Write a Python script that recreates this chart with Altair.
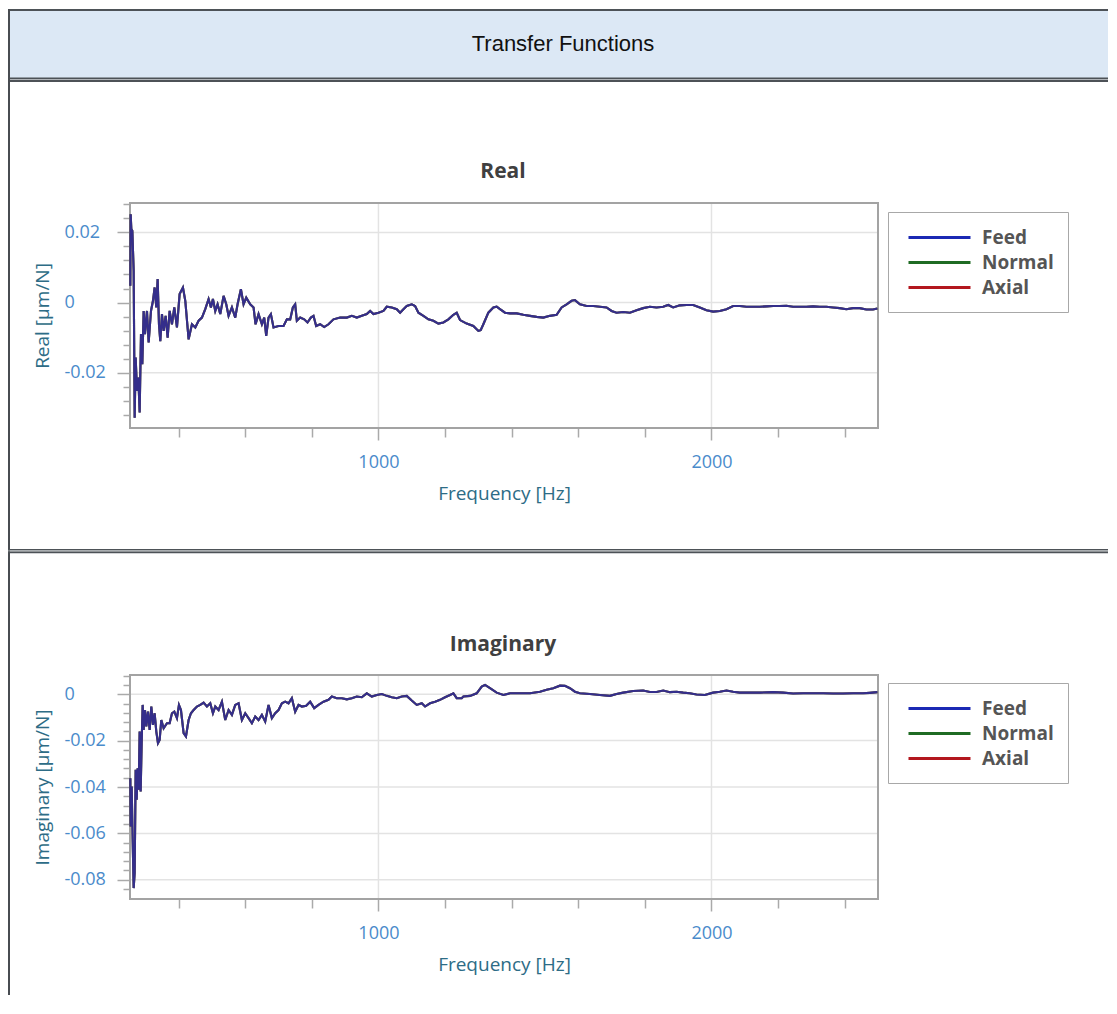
import altair as alt
import pandas as pd

# ---------------- data ----------------
SERIES = ["Feed", "Normal", "Axial"]
SERIES_COLORS = ["#1b29b4", "#1f6b23", "#b3171e"]

REAL_FREQ = [255, 256, 258, 261, 265, 268, 271, 275, 279, 283, 287, 291, 295, 299, 305, 310, 317, 323, 328, 333,
             337, 341, 345, 350, 355, 361, 367, 373, 380, 387, 395, 403, 413, 420, 430, 440, 450, 460, 470, 480,
             490, 497, 503, 510, 517, 525, 535, 543, 550, 560, 570, 577, 587, 595, 603, 615, 625, 631, 640, 650,
             657, 663, 670, 677, 685, 700, 715, 725, 735, 743, 750, 755, 765, 777, 787, 797, 805, 813, 825, 837,
             850, 865, 885, 905, 920, 935, 950, 965, 975, 985, 1000, 1015, 1025, 1040, 1055, 1065, 1075, 1085, 1100, 1110,
             1120, 1135, 1150, 1165, 1180, 1195, 1210, 1225, 1235, 1245, 1265, 1285, 1300, 1307, 1315, 1330, 1345, 1355, 1365, 1380,
             1395, 1415, 1435, 1455, 1475, 1495, 1515, 1535, 1550, 1565, 1580, 1590, 1605, 1625, 1645, 1665, 1685, 1700, 1715, 1735,
             1755, 1775, 1795, 1815, 1835, 1855, 1870, 1885, 1905, 1925, 1945, 1965, 1985, 2005, 2025, 2045, 2065, 2085, 2105, 2125,
             2145, 2165, 2185, 2205, 2225, 2245, 2265, 2285, 2305, 2325, 2345, 2365, 2385, 2405, 2425, 2445, 2465, 2485, 2498]
REAL_VALUE = [0.0048, 0.0252, 0.0210, 0.0205, 0.0090, -0.0329, -0.0157, -0.0252, -0.0214, -0.0314, -0.0090, -0.0176, -0.0024, -0.0090, -0.0024, -0.0114, -0.0024, 0.0005, 0.0043, -0.0014,
              0.0067, -0.0062, -0.0110, -0.0033, -0.0081, -0.0038, -0.0100, -0.0024, -0.0062, -0.0014, -0.0071, 0.0024, 0.0043, 0.0005, -0.0105, -0.0062, -0.0071, -0.0052, -0.0043, -0.0019,
              0.0010, -0.0014, 0.0010, -0.0024, -0.0005, -0.0033, 0.0019, -0.0005, -0.0038, -0.0014, -0.0043, -0.0005, 0.0038, -0.0005, 0.0014, -0.0005, -0.0014, -0.0062, -0.0033, -0.0062,
              -0.0043, -0.0095, -0.0043, -0.0033, -0.0071, -0.0067, -0.0067, -0.0048, -0.0048, -0.0014, -0.0005, -0.0052, -0.0043, -0.0048, -0.0057, -0.0043, -0.0038, -0.0067, -0.0062, -0.0070,
              -0.0062, -0.0048, -0.0043, -0.0043, -0.0038, -0.0043, -0.0038, -0.0033, -0.0024, -0.0033, -0.0029, -0.0024, -0.0012, -0.0014, -0.0019, -0.0029, -0.0019, -0.0010, -0.0005, -0.0010,
              -0.0029, -0.0038, -0.0048, -0.0052, -0.0060, -0.0057, -0.0048, -0.0035, -0.0029, -0.0050, -0.0060, -0.0067, -0.0081, -0.0079, -0.0062, -0.0029, -0.0014, -0.0012, -0.0019, -0.0029,
              -0.0031, -0.0031, -0.0035, -0.0038, -0.0041, -0.0043, -0.0038, -0.0035, -0.0014, -0.0005, 0.0005, 0.0007, -0.0005, -0.0010, -0.0010, -0.0012, -0.0014, -0.0024, -0.0029, -0.0027,
              -0.0029, -0.0022, -0.0016, -0.0012, -0.0014, -0.0012, -0.0007, -0.0014, -0.0008, -0.0007, -0.0007, -0.0014, -0.0022, -0.0026, -0.0024, -0.0019, -0.0010, -0.0010, -0.0012, -0.0012,
              -0.0012, -0.0011, -0.0010, -0.0010, -0.0009, -0.0012, -0.0012, -0.0012, -0.0011, -0.0012, -0.0012, -0.0014, -0.0016, -0.0019, -0.0016, -0.0016, -0.0020, -0.0020, -0.0017]

IMAG_FREQ = [255, 256, 259, 262, 265, 268, 271, 274, 277, 280, 283, 286, 289, 292, 295, 299, 303, 308, 313, 318,
             323, 328, 333, 338, 343, 348, 355, 365, 373, 380, 387, 395, 401, 407, 415, 422, 430, 437, 445, 455,
             465, 475, 485, 495, 503, 510, 520, 530, 540, 550, 560, 570, 580, 590, 600, 610, 620, 630, 640, 650,
             660, 670, 680, 690, 700, 710, 720, 730, 740, 750, 760, 770, 783, 795, 807, 820, 835, 850, 860, 875,
             890, 905, 920, 935, 950, 965, 980, 995, 1010, 1025, 1040, 1055, 1070, 1085, 1100, 1115, 1130, 1140, 1155, 1170,
             1185, 1200, 1215, 1225, 1235, 1250, 1255, 1275, 1295, 1310, 1320, 1335, 1355, 1375, 1395, 1425, 1455, 1485, 1505, 1525,
             1545, 1560, 1575, 1590, 1605, 1635, 1665, 1695, 1715, 1735, 1765, 1795, 1815, 1835, 1855, 1875, 1895, 1915, 1935, 1955,
             1980, 2005, 2025, 2045, 2065, 2085, 2115, 2145, 2185, 2215, 2245, 2275, 2305, 2335, 2365, 2395, 2425, 2455, 2475, 2498]
IMAG_VALUE = [-0.0362, -0.0570, -0.0398, -0.0628, -0.0836, -0.0771, -0.0326, -0.0455, -0.0319, -0.0412, -0.0161, -0.0419, -0.0211, -0.0046, -0.0154, -0.0068, -0.0139, -0.0075, -0.0154, -0.0053,
              -0.0132, -0.0082, -0.0161, -0.0211, -0.0197, -0.0111, -0.0147, -0.0125, -0.0125, -0.0082, -0.0075, -0.0103, -0.0046, -0.0068, -0.0168, -0.0182, -0.0111, -0.0082, -0.0068, -0.0053,
              -0.0046, -0.0036, -0.0053, -0.0039, -0.0082, -0.0053, -0.0068, -0.0032, -0.0111, -0.0068, -0.0089, -0.0046, -0.0039, -0.0111, -0.0082, -0.0103, -0.0125, -0.0096, -0.0111, -0.0089,
              -0.0118, -0.0046, -0.0103, -0.0082, -0.0068, -0.0039, -0.0032, -0.0039, -0.0017, -0.0075, -0.0046, -0.0053, -0.0050, -0.0032, -0.0060, -0.0046, -0.0032, -0.0024, -0.0010, -0.0017,
              -0.0017, -0.0022, -0.0017, -0.0010, -0.0013, 0.0004, -0.0010, -0.0003, 0.0001, -0.0007, -0.0013, -0.0017, -0.0010, -0.0007, -0.0027, -0.0046, -0.0039, -0.0053, -0.0039, -0.0032,
              -0.0024, -0.0013, -0.0003, 0.0004, -0.0017, -0.0017, -0.0010, -0.0007, 0.0004, 0.0033, 0.0040, 0.0026, 0.0007, -0.0003, 0.0004, 0.0004, 0.0004, 0.0011, 0.0019, 0.0026,
              0.0037, 0.0036, 0.0026, 0.0011, 0.0004, 0.0001, -0.0003, -0.0007, 0.0001, 0.0007, 0.0014, 0.0016, 0.0010, 0.0010, 0.0016, 0.0009, 0.0011, 0.0007, 0.0004, -0.0001,
              -0.0003, 0.0007, 0.0011, 0.0016, 0.0011, 0.0007, 0.0007, 0.0007, 0.0009, 0.0007, 0.0003, 0.0004, 0.0004, 0.0004, 0.0003, 0.0003, 0.0004, 0.0004, 0.0006, 0.0009]

X_TICKS = [400, 600, 800, 1000, 1200, 1400, 1600, 1800, 2000, 2200, 2400]
X_GRID = [1000, 2000]
REAL_Y_TICKS = [-0.032, -0.028, -0.024, -0.02, -0.016, -0.012, -0.008, -0.004, 0.0,
                0.004, 0.008, 0.012, 0.016, 0.02, 0.024, 0.028]
REAL_Y_GRID = [-0.02, 0.0, 0.02]
IMAG_Y_TICKS = [-0.084, -0.08, -0.076, -0.072, -0.068, -0.064, -0.06, -0.056, -0.052, -0.048, -0.044,
                -0.04, -0.036, -0.032, -0.028, -0.024, -0.02, -0.016, -0.012, -0.008, -0.004, 0.0, 0.004, 0.008]
IMAG_Y_GRID = [-0.08, -0.06, -0.04, -0.02, 0.0]

HEADER_TEXT = "Transfer Functions"
REAL_TITLE = "Real"
IMAG_TITLE = "Imaginary"

# ---------------- style / layout ----------------
FONT = "Open Sans"
LABEL_COLOR = "#4a8bcb"
TITLE_COLOR = "#2d6c86"
FRAME_DARK = "#484c51"
LINE_DARK = "#4d5257"
LINE_LIGHT = "#b0b4b8"
FULL_W = 1100
HEADER_H = 74
PLOT_L, PLOT_R = 122, 870
NO_VIEW_BORDER = alt.ViewBackground(stroke="transparent", strokeWidth=0, strokeOpacity=0)

one = pd.DataFrame({"k": [0]})

MAJOR_X = "datum.value % 1000 === 0"
MAJOR_Y = "abs(datum.value * 50 - round(datum.value * 50)) < 1e-6"
Y_LABEL = ("abs(datum.value) < 1e-9 ? '0' : (" + MAJOR_Y +
           " ? (datum.value < 0 ? '-' : '') + format(abs(datum.value), '.2f') : '')")


def long_df(freqs, vals):
    rows = []
    for s in SERIES:
        for f, v in zip(freqs, vals):
            rows.append({"freq": f, "value": v, "series": s})
    return pd.DataFrame(rows)


def band(x1, x2, y1, y2, color):
    """A filled strip (no stroke) used for the panel frame lines."""
    return (
        alt.Chart(one).mark_rect(color=color, strokeWidth=0)
        .encode(x=alt.value(x1), x2=alt.value(x2), y=alt.value(y1), y2=alt.value(y2))
    )


def x_enc(h, bottom):
    return alt.X(
        "freq:Q",
        scale=alt.Scale(domain=[254, 2500], range=[PLOT_L, PLOT_R], nice=False, zero=False),
        axis=alt.Axis(
            values=X_TICKS,
            labelExpr="datum.value % 1000 === 0 ? format(datum.value, 'd') : ''",
            title="Frequency [Hz]",
            offset=bottom - h,
            domain=False,
            grid=False,
            ticks=True,
            tickSize={"condition": {"test": MAJOR_X, "value": 12}, "value": 9},
            tickColor="#aaaaaa",
            tickWidth=1.5,
            labelPadding=13,
            labelColor=LABEL_COLOR,
            labelFont=FONT,
            labelFontSize=18,
            labelFlush=False,
            labelOverlap=False,
            titleColor=TITLE_COLOR,
            titleFont=FONT,
            titleFontSize=19,
            titleFontWeight="normal",
            titlePadding=13,
        ),
    )


def y_enc(title, domain, ticks, top, bottom):
    return alt.Y(
        "value:Q",
        scale=alt.Scale(domain=domain, range=[bottom, top], nice=False, zero=False),
        axis=alt.Axis(
            values=ticks,
            labelExpr=Y_LABEL,
            title=title,
            offset=-PLOT_L,
            domain=False,
            grid=False,
            ticks=True,
            tickSize={"condition": {"test": MAJOR_Y, "value": 13}, "value": 7},
            tickColor="#aaaaaa",
            tickWidth=1.5,
            labelAlign="left",
            labelPadding=53,
            labelColor=LABEL_COLOR,
            labelFont=FONT,
            labelFontSize=18,
            labelFlush=False,
            labelOverlap=False,
            titleColor=TITLE_COLOR,
            titleFont=FONT,
            titleFontSize=19,
            titleFontWeight="normal",
            titlePadding=12,
        ),
    )


def color_enc(legend_y):
    return alt.Color(
        "series:N",
        scale=alt.Scale(domain=SERIES, range=SERIES_COLORS),
        title=None,
        legend=alt.Legend(
            orient="none",
            legendX=880,
            legendY=legend_y,
            strokeColor="#a8a8a8",
            fillColor="white",
            padding=14,
            symbolType="M-0.5,0H5.7",
            symbolSize=400,
            symbolStrokeWidth=3,
            symbolOpacity=1,
            labelFont=FONT,
            labelFontSize=19,
            labelFontWeight="bold",
            labelColor="#555555",
            labelOffset=57,
            rowPadding=3,
        ),
    )


def section(freqs, vals, title, y_title, domain, ticks, grid_vals, h, top, bottom,
            legend_y, title_y, separator):
    df = long_df(freqs, vals)
    xe = x_enc(h, bottom)
    ye = y_enc(y_title, domain, ticks, top, bottom)
    layers = []
    # grid lines, drawn through the same scales
    layers.append(
        alt.Chart(pd.DataFrame({"freq": X_GRID})).mark_rule(color="#e3e3e3", strokeWidth=1.5)
        .encode(x=xe, y=alt.value(top), y2=alt.value(bottom))
    )
    layers.append(
        alt.Chart(pd.DataFrame({"value": grid_vals})).mark_rule(color="#e3e3e3", strokeWidth=1.5)
        .encode(y=ye, x=alt.value(PLOT_L), x2=alt.value(PLOT_R))
    )
    # plot frame
    layers.append(
        alt.Chart(one).mark_rect(fillOpacity=0, stroke="#a3a3a3", strokeWidth=2)
        .encode(x=alt.value(PLOT_L), x2=alt.value(PLOT_R), y=alt.value(top), y2=alt.value(bottom))
    )
    # the three series coincide; they are stacked so the visible trace is a dark navy blend
    for s, op in [("Normal", 1.0), ("Axial", 0.6), ("Feed", 0.72)]:
        layers.append(
            alt.Chart(df)
            .transform_filter(alt.datum.series == s)
            .mark_line(strokeWidth=2.1, opacity=op)
            .encode(x=xe, y=ye, color=color_enc(legend_y))
        )
    # section frame (filled strips, no stroke overhang)
    layers.append(band(0, 2, 0, h, FRAME_DARK))
    if separator:
        layers.append(band(0, FULL_W, 0, 1.6, LINE_DARK))
        layers.append(band(0, FULL_W, 1.6, 2.6, LINE_LIGHT))
        layers.append(band(0, FULL_W, 2.6, 4.2, LINE_DARK))
    layers.append(
        alt.Chart(one).mark_text(text=title, font=FONT, fontSize=21, fontWeight="bold",
                                 color="#404040", align="center", baseline="middle")
        .encode(x=alt.value(495), y=alt.value(title_y))
    )
    return alt.layer(*layers).properties(width=FULL_W, height=h, view=NO_VIEW_BORDER)


# ---------------- header ----------------
header_layers = [
    band(0, FULL_W, 2, 70, "#dce8f5"),
    band(0, FULL_W, 1, 3, LINE_DARK),
    band(0, FULL_W, 69.5, 71.1, LINE_DARK),
    band(0, FULL_W, 71.1, 72.1, LINE_LIGHT),
    band(0, FULL_W, 72.1, 74, LINE_DARK),
    band(0, 2, 1, HEADER_H, FRAME_DARK),
    alt.Chart(one).mark_text(text=HEADER_TEXT, font="Liberation Sans", fontSize=22,
                             color="#111111", align="center", baseline="middle")
    .encode(x=alt.value(555), y=alt.value(36)),
]
header = alt.layer(*header_layers).properties(width=FULL_W, height=HEADER_H, view=NO_VIEW_BORDER)

# section geometry (view coordinates of each band)
real = section(REAL_FREQ, REAL_VALUE, REAL_TITLE, "Real [µm/N]", [-0.0358, 0.0284], REAL_Y_TICKS,
               REAL_Y_GRID, h=467, top=121, bottom=346, legend_y=130, title_y=90, separator=False)
imag = section(IMAG_FREQ, IMAG_VALUE, IMAG_TITLE, "Imaginary [µm/N]", [-0.0883, 0.0083], IMAG_Y_TICKS,
               IMAG_Y_GRID, h=446, top=126, bottom=350, legend_y=134, title_y=96, separator=True)

chart = (
    alt.vconcat(header, real, imag, spacing=0)
    .resolve_scale(color="independent", x="independent", y="independent")
    .resolve_legend(color="independent")
    .properties(padding=0, background="white")
    .configure_view(strokeWidth=0, strokeOpacity=0)
)

chart.save("out.html", embed_options={"renderer": "svg", "actions": False})
